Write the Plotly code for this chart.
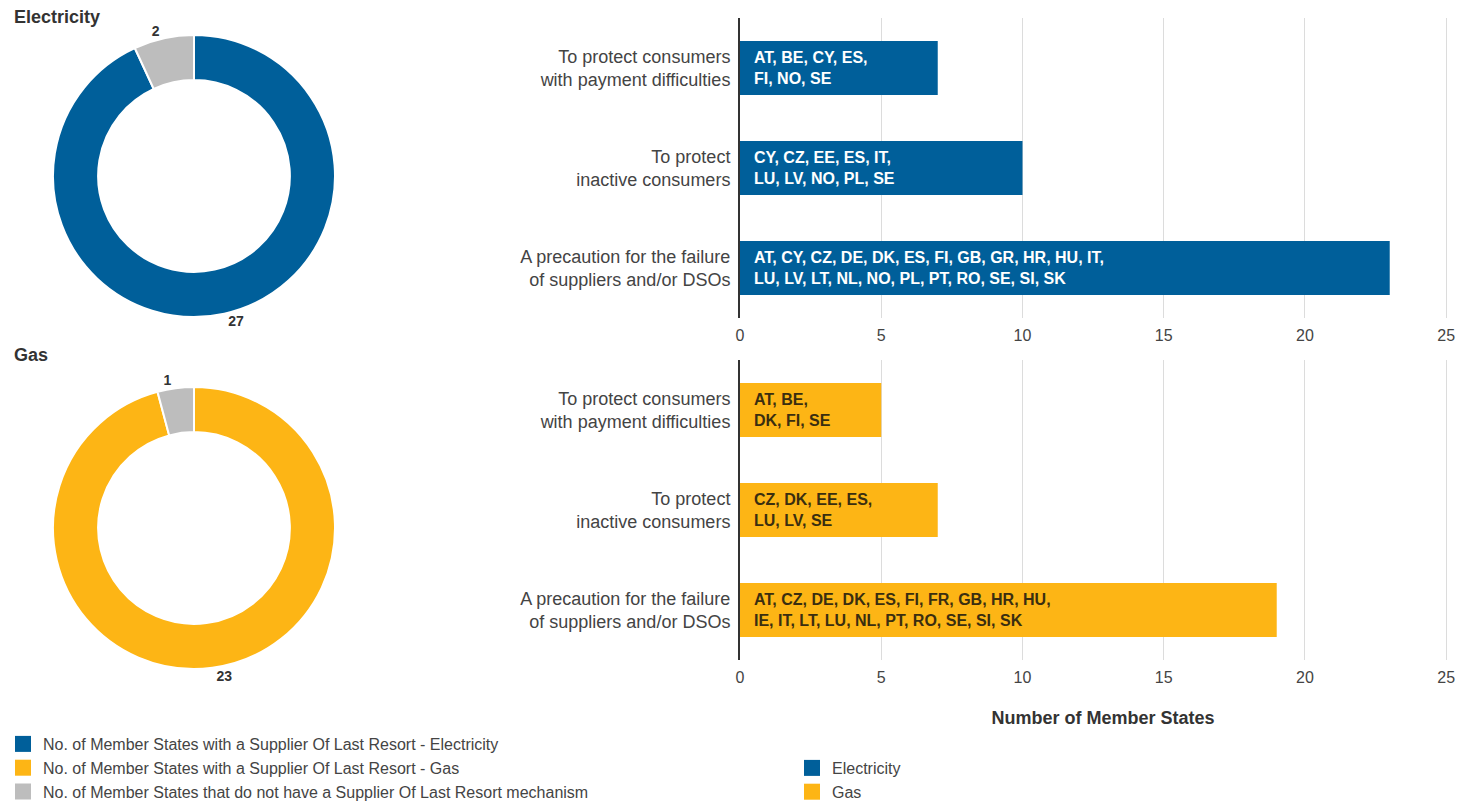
import plotly.graph_objects as go

# ---------------- data ----------------
pie_labels_elec = [
    "No. of Member States with a Supplier Of Last Resort - Electricity",
    "No. of Member States that do not have a Supplier Of Last Resort mechanism",
]
pie_values_elec = [27, 2]
pie_labels_gas = [
    "No. of Member States with a Supplier Of Last Resort - Gas",
    "No. of Member States that do not have a Supplier Of Last Resort mechanism",
]
pie_values_gas = [23, 1]

categories = [
    "To protect consumers<br>with payment difficulties",
    "To protect<br>inactive consumers",
    "A precaution for the failure<br>of suppliers and/or DSOs",
]
elec_values = [7, 10, 23]
gas_values = [5, 7, 19]
elec_countries = [
    "AT, BE, CY, ES,<br>FI, NO, SE",
    "CY, CZ, EE, ES, IT,<br>LU, LV, NO, PL, SE",
    "AT, CY, CZ, DE, DK, ES, FI, GB, GR, HR, HU, IT,<br>LU, LV, LT, NL, NO, PL, PT, RO, SE, SI, SK",
]
gas_countries = [
    "AT, BE,<br>DK, FI, SE",
    "CZ, DK, EE, ES,<br>LU, LV, SE",
    "AT, CZ, DE, DK, ES, FI, FR, GB, HR, HU,<br>IE, IT, LT, LU, NL, PT, RO, SE, SI, SK",
]
x_ticks = [0, 5, 10, 15, 20, 25]
legend1_names = [
    "No. of Member States with a Supplier Of Last Resort - Electricity",
    "No. of Member States with a Supplier Of Last Resort - Gas",
    "No. of Member States that do not have a Supplier Of Last Resort mechanism",
]
legend2_names = ["Electricity", "Gas"]

# ---------------- style ----------------
OFF = 8                      # default page body margin
W, H = 1475 - 2 * OFF, 809 - 2 * OFF
BLUE = "#005f9a"
GOLD = "#fdb515"
GRAY = "#bdbdbd"
FONT = "Liberation Sans, Arial, sans-serif"
legend1_colors = [BLUE, GOLD, GRAY]
legend2_colors = [BLUE, GOLD]


def px_x(x):
    """screen pixel x -> paper fraction"""
    return min(1.0, (x - OFF) / W)


def px_y(y):
    """screen pixel y (from top) -> paper fraction"""
    return max(0.0, min(1.0, 1 - (y - OFF) / H))


fig = go.Figure()

# Donuts
R = 141
for labels, values, colors, cy in [
    (pie_labels_elec, pie_values_elec, [BLUE, GRAY], 176),
    (pie_labels_gas, pie_values_gas, [GOLD, GRAY], 528),
]:
    fig.add_trace(go.Pie(
        labels=labels, values=values, hole=0.68, sort=False,
        direction="clockwise", rotation=0,
        marker=dict(colors=colors, line=dict(color="white", width=2)),
        textinfo="value", textposition="outside",
        textfont=dict(size=14, color="#333", family=FONT, weight="bold"),
        domain=dict(x=[px_x(194 - R), px_x(194 + R)], y=[px_y(cy + R), px_y(cy - R)]),
        showlegend=False,
    ))

# Bars
for vals, color, xa, ya, grp in [
    (elec_values, BLUE, "x", "y", "Electricity"),
    (gas_values, GOLD, "x2", "y2", "Gas"),
]:
    fig.add_trace(go.Bar(
        x=vals, y=categories, orientation="h", width=0.54,
        marker=dict(color=color, line=dict(width=0)),
        xaxis=xa, yaxis=ya, name=grp, legendgroup=grp, showlegend=False,
    ))

# Legend entries
for name, color in zip(legend1_names, legend1_colors):
    fig.add_trace(go.Scatter(
        x=[None], y=[None], mode="markers", name=name, legend="legend",
        marker=dict(symbol="square", size=16, color=color),
        xaxis="x", yaxis="y", hoverinfo="skip",
    ))
for name, color in zip(legend2_names, legend2_colors):
    fig.add_trace(go.Scatter(
        x=[None], y=[None], mode="markers", name=name, legend="legend2",
        legendgroup=name,
        marker=dict(symbol="square", size=16, color=color),
        xaxis="x", yaxis="y", hoverinfo="skip",
    ))

annotations = []
for texts, ya, tcolor in [(elec_countries, "y", "white"), (gas_countries, "y2", "#3a2e10")]:
    xa = "x" if ya == "y" else "x2"
    for cat, t in zip(categories, texts):
        annotations.append(dict(
            x=0, y=cat, xref=xa, yref=ya, text=t, showarrow=False,
            xanchor="left", yanchor="middle", xshift=12, align="left",
            font=dict(size=16, color=tcolor, family=FONT, weight="bold"),
        ))
annotations.append(dict(x=px_x(12), y=px_y(17), xref="paper", yref="paper", text="Electricity",
                        showarrow=False, xanchor="left", yanchor="middle",
                        font=dict(size=18, color="#333", family=FONT, weight="bold")))
annotations.append(dict(x=px_x(12), y=px_y(355), xref="paper", yref="paper", text="Gas",
                        showarrow=False, xanchor="left", yanchor="middle",
                        font=dict(size=18, color="#333", family=FONT, weight="bold")))

xaxis_common = dict(
    range=[0, 25.7], tickvals=x_ticks, showgrid=True, gridcolor="#dcdcdc", gridwidth=1,
    zeroline=False, showline=False, ticks="", ticklabelstandoff=6,
    tickfont=dict(size=16, color="#444", family=FONT), fixedrange=True,
    domain=[px_x(740), px_x(1466)], automargin=False,
)
yaxis_common = dict(
    type="category", categoryorder="array", categoryarray=categories, autorange="reversed",
    showline=True, linecolor="#333", linewidth=2, showgrid=False, ticks="",
    ticklabelstandoff=4, tickfont=dict(size=18, color="#444", family=FONT), fixedrange=True,
    automargin=False,
)

fig.update_layout(
    width=W, height=H,
    margin=dict(l=0, r=0, t=0, b=0, autoexpand=False),
    paper_bgcolor="white", plot_bgcolor="white",
    font=dict(family=FONT, color="#444"),
    xaxis=dict(**xaxis_common, anchor="y"),
    yaxis=dict(**yaxis_common, anchor="x", domain=[px_y(318), px_y(18)]),
    xaxis2=dict(**xaxis_common, anchor="y2",
                title=dict(text="Number of Member States", standoff=26,
                           font=dict(size=18, color="#333", family=FONT, weight="bold"))),
    yaxis2=dict(**yaxis_common, anchor="x2", domain=[px_y(660), px_y(360)]),
    bargap=0.46,
    annotations=annotations,
    legend=dict(x=(3 - OFF) / W, y=px_y(727), xref="paper", yref="paper",
                xanchor="left", yanchor="top", bgcolor="rgba(0,0,0,0)",
                font=dict(size=16, color="#444", family=FONT), tracegroupgap=0),
    legend2=dict(x=px_x(792), y=px_y(751), xref="paper", yref="paper",
                 xanchor="left", yanchor="top", bgcolor="rgba(0,0,0,0)",
                 font=dict(size=16, color="#444", family=FONT), tracegroupgap=0),
)

fig.write_html("out.html")
